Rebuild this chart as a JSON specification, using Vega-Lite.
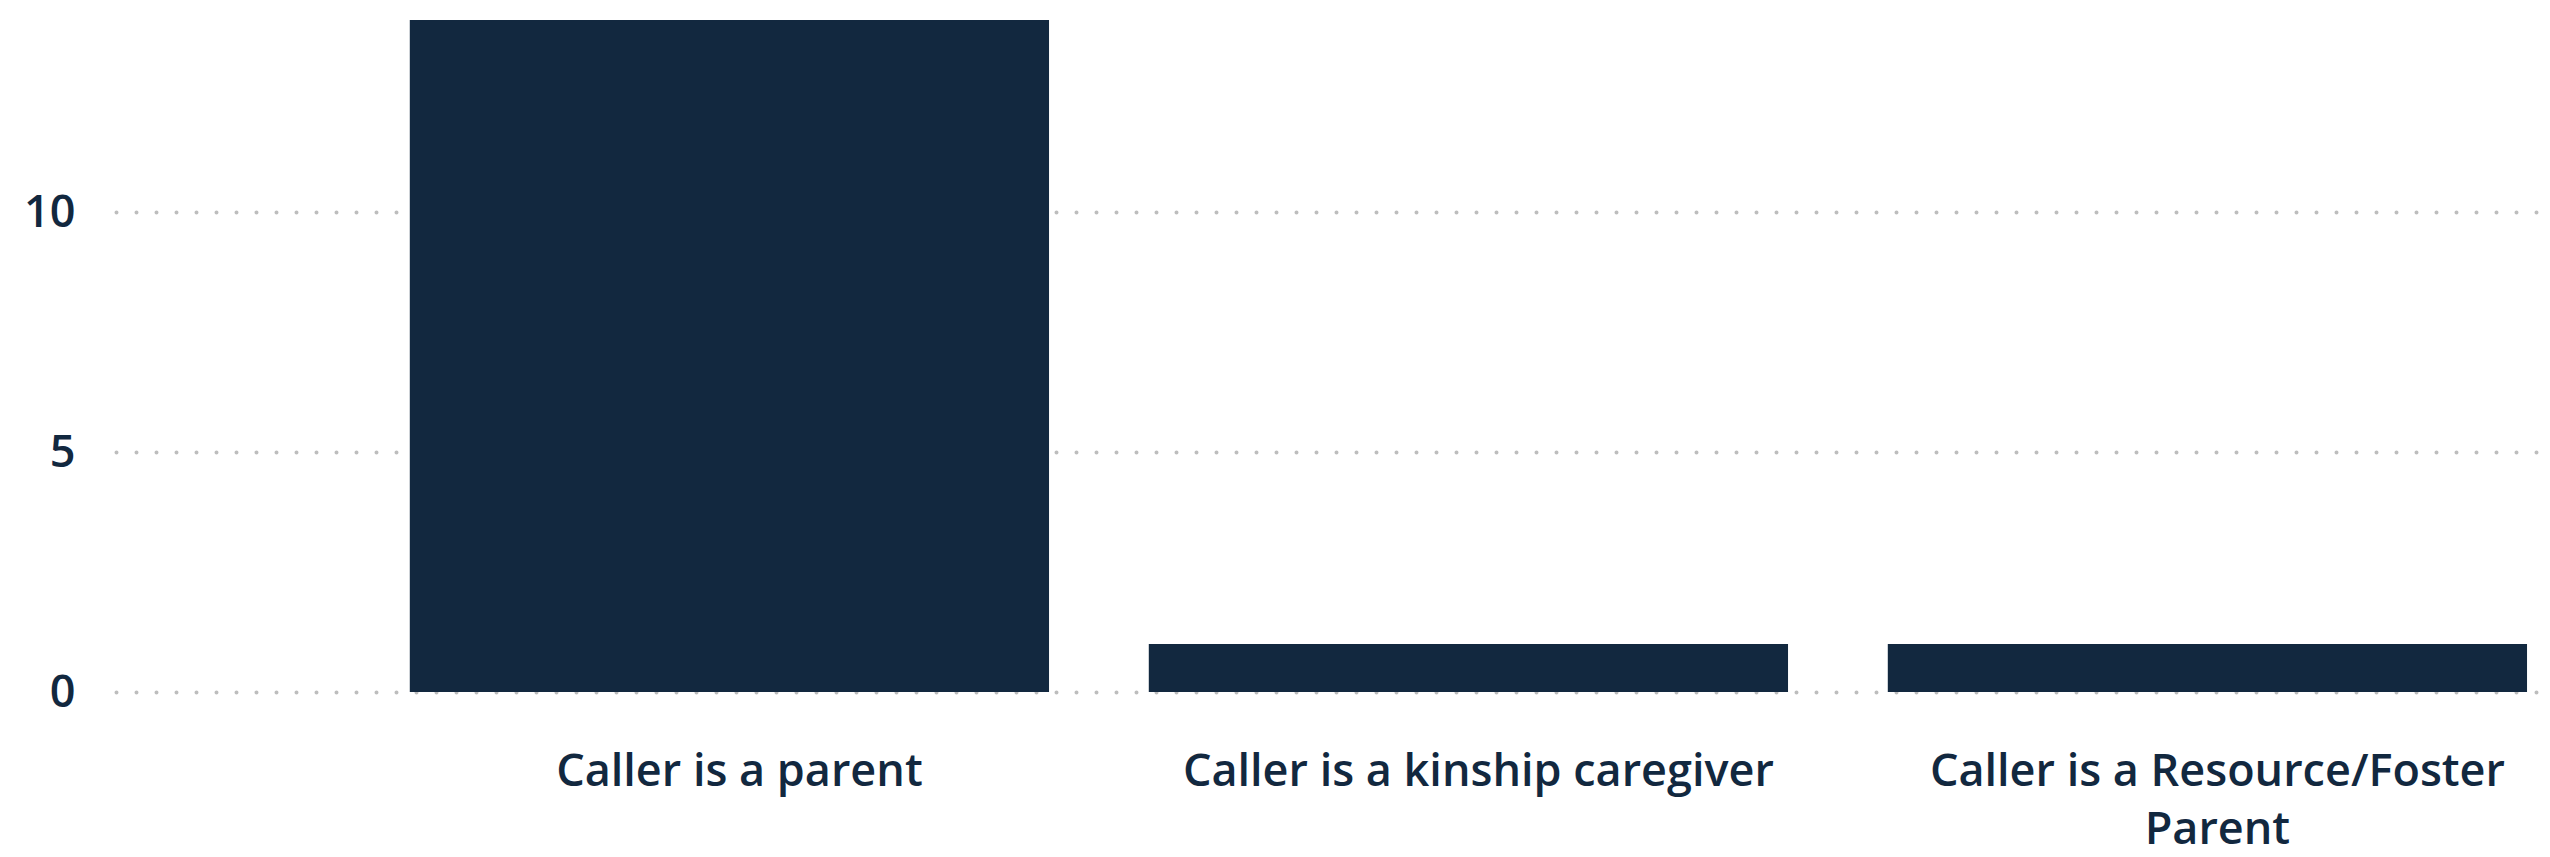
{
  "$schema": "https://vega.github.io/schema/vega-lite/v6.json",
  "width": 2422,
  "height": 672,
  "autosize": {"type": "none"},
  "padding": {"left": 116, "top": 20, "right": 12, "bottom": 165},
  "background": "white",
  "data": {
    "values": [
      {"category": "Caller is a parent", "count": 14},
      {"category": "Caller is a kinship caregiver", "count": 1},
      {"category": "Caller is a Resource/Foster Parent", "count": 1}
    ]
  },
  "mark": {"type": "bar", "color": "#12283F"},
  "encoding": {
    "x": {
      "field": "category",
      "type": "nominal",
      "sort": null,
      "scale": {"paddingInner": 0.135, "paddingOuter": 0.2062, "align": 0.964},
      "axis": {
        "title": null,
        "domain": false,
        "ticks": false,
        "grid": false,
        "labelAngle": 0,
        "labelFont": "Open Sans",
        "labelFontWeight": 600,
        "labelFontSize": 45,
        "labelColor": "#12283F",
        "labelPadding": 57,
        "labelLineHeight": 58,
        "labelBaseline": "top",
        "labelOffset": 10,
        "labelLimit": 1000,
        "labelExpr": "datum.label == 'Caller is a Resource/Foster Parent' ? ['Caller is a Resource/Foster', 'Parent'] : datum.label"
      }
    },
    "y": {
      "field": "count",
      "type": "quantitative",
      "scale": {"domain": [0, 14], "nice": false},
      "axis": {
        "title": null,
        "domain": false,
        "ticks": false,
        "values": [0, 5, 10],
        "labelFont": "Open Sans",
        "labelFontWeight": 600,
        "labelFontSize": 45,
        "labelColor": "#12283F",
        "labelPadding": 41,
        "gridColor": "#bdbdbd",
        "gridWidth": 4,
        "gridDash": [0, 20],
        "gridCap": "round"
      }
    }
  },
  "config": {"view": {"stroke": null}}
}
